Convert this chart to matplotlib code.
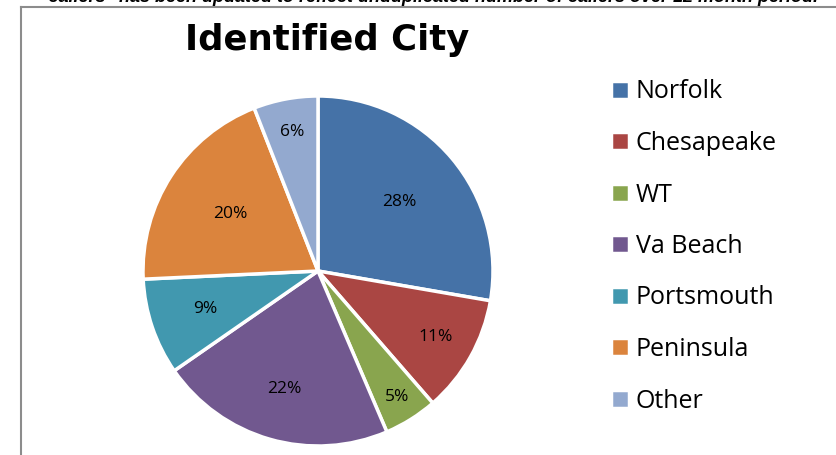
import matplotlib.pyplot as plt
from matplotlib.lines import Line2D

cities = ['Norfolk', 'Chesapeake', 'WT', 'Va Beach', 'Portsmouth', 'Peninsula', 'Other']
shares = [28, 11, 5, 22, 9, 20, 6]
colors = ['#4572a7', '#aa4643', '#89a54e', '#71588f', '#4198af', '#db843d', '#93a9cf']
# radial position of each % label (fraction of radius)
label_r = [0.61, 0.77, 0.85, 0.70, 0.68, 0.60, 0.81]

title = 'Identified City'
note = '"callers" has been updated to reflect unduplicated number of callers over 12 month period.'

W, H = 836, 455
fig = plt.figure(figsize=(W / 100, H / 100), dpi=100)

# chopped-off note above the chart frame
fig.text(40 / W, 1 - 2.5 / H, note, fontsize=13, fontweight='bold', fontstyle='italic',
         family='Liberation Sans', ha='left', va='baseline')

# chart frame (only top and left edges show)
fig.add_artist(Line2D([21 / W, 1], [1 - 7 / H, 1 - 7 / H], color='#8c8c8c', lw=1.5))
fig.add_artist(Line2D([21 / W, 21 / W], [1 - 7 / H, 0], color='#8c8c8c', lw=1.5))

ax = fig.add_axes([143 / W, 9 / H, 350 / W, 350 / H])
wedges, texts, autotexts = ax.pie(shares, colors=colors, startangle=90, counterclock=False,
                                  autopct='%.0f%%', pctdistance=0.6,
                                  wedgeprops=dict(edgecolor='white', linewidth=2.5),
                                  textprops=dict(fontsize=12.5, family='Open Sans', color='black'))
for t, r in zip(autotexts, label_r):
    x, y = t.get_position()
    k = r / 0.6
    t.set_position((x * k, y * k))
ax.set_xlim(-1, 1)
ax.set_ylim(-1, 1)
ax.set_aspect('equal')

fig.text(327 / W, 1 - 40 / H, title, fontsize=25.5, fontweight='bold',
         family='DejaVu Sans', ha='center', va='center')

fig.legend(wedges, cities, loc='upper left', bbox_to_anchor=(598 / W, 1 - 67 / H),
           frameon=False, prop=dict(family='Open Sans', size=18),
           handlelength=0.75, handleheight=0.75, handletextpad=0.25, labelspacing=1.06,
           borderpad=0)

fig.savefig('out.png', dpi=100)
